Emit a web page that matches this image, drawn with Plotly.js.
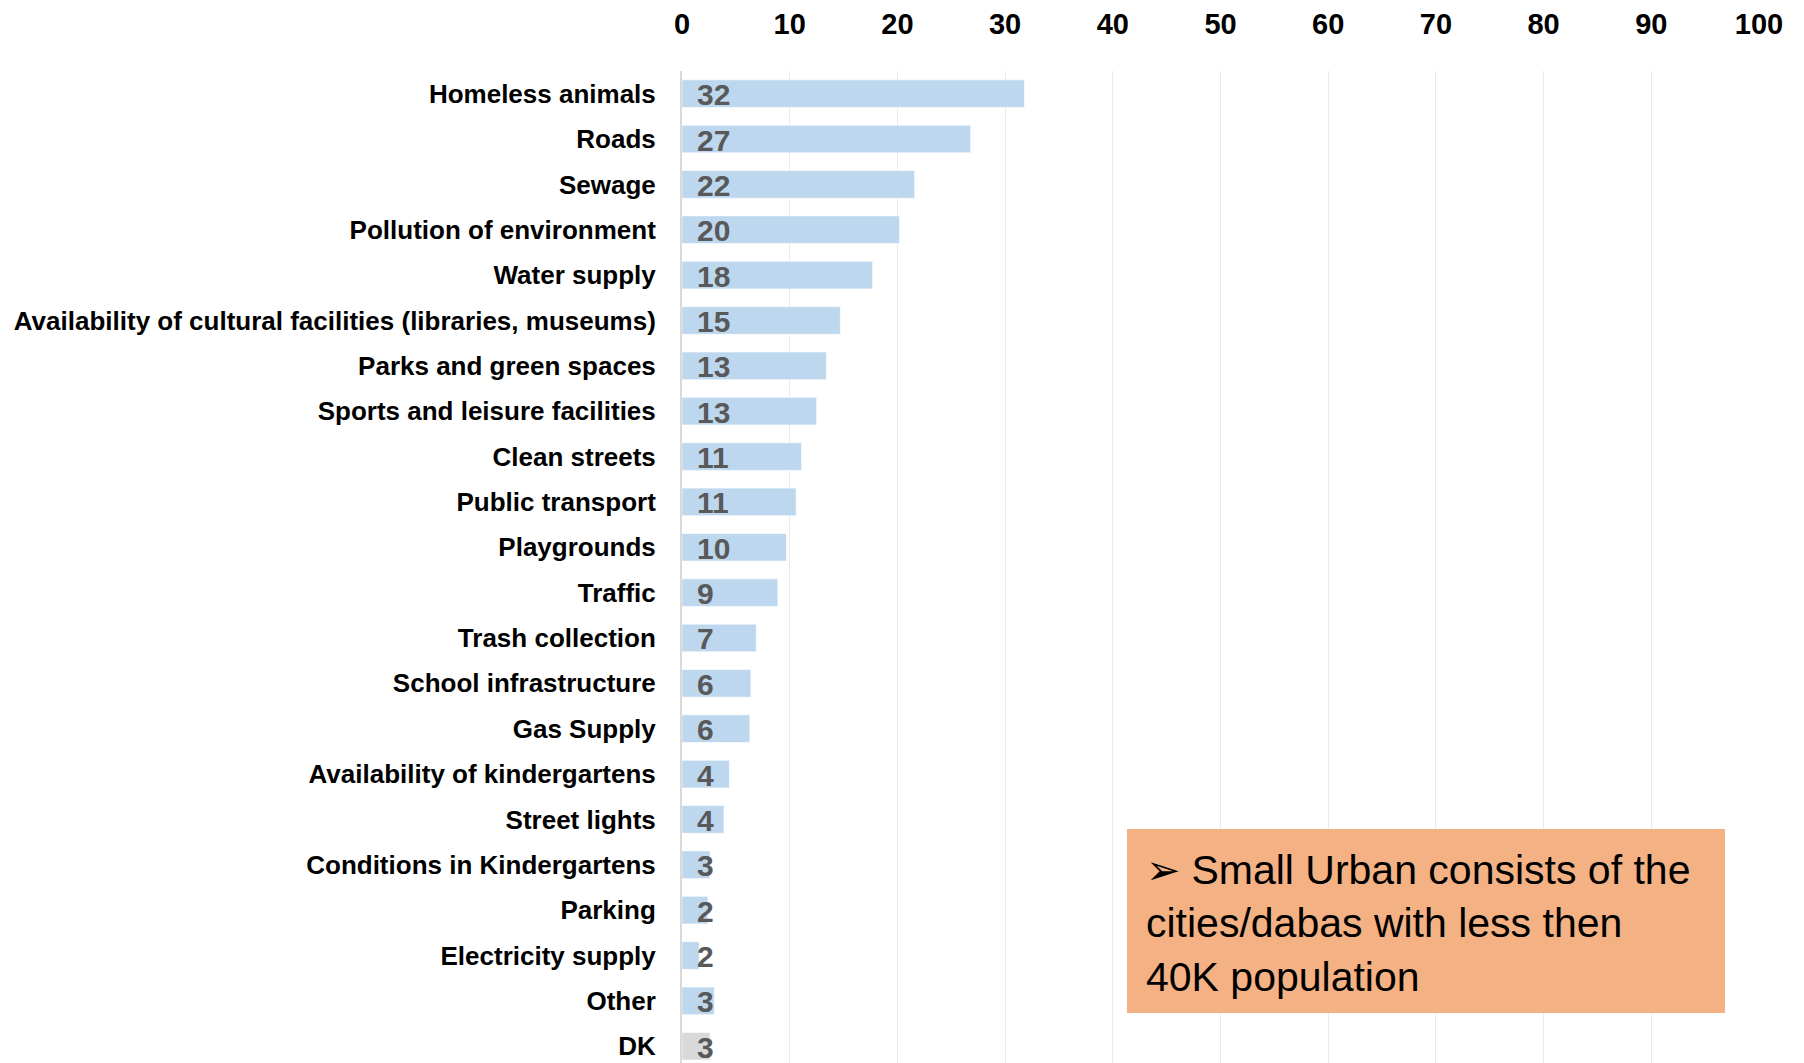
<!DOCTYPE html>
<html>
<head>
<meta charset="utf-8">
<script src="https://cdn.plot.ly/plotly-3.0.1.min.js"></script>
<style>
html,body{margin:0;padding:0;background:#fff;}
#chart{width:1804px;height:1063px;}
</style>
</head>
<body>
<div id="chart"></div>
<script>
const categories = [
  "Homeless animals",
  "Roads",
  "Sewage",
  "Pollution of environment",
  "Water supply",
  "Availability of cultural facilities (libraries, museums)",
  "Parks and green spaces",
  "Sports and leisure facilities",
  "Clean streets",
  "Public transport",
  "Playgrounds",
  "Traffic",
  "Trash collection",
  "School infrastructure",
  "Gas Supply",
  "Availability of kindergartens",
  "Street lights",
  "Conditions in Kindergartens",
  "Parking",
  "Electricity supply",
  "Other",
  "DK"
];
const values = [31.8, 26.8, 21.6, 20.2, 17.7, 14.7, 13.4, 12.5, 11.1, 10.6, 9.7, 8.9, 6.9, 6.4, 6.3, 4.4, 3.9, 2.6, 2.4, 1.6, 3.0, 2.6];
const labels = ["32","27","22","20","18","15","13","13","11","11","10","9","7","6","6","4","4","3","2","2","3","3"];
const xTicks = [0, 10, 20, 30, 40, 50, 60, 70, 80, 90, 100];
const noteText = "➢ Small Urban consists of the<br>cities/dabas with less then<br>40K population";

const FONT = "'Liberation Sans', Arial, sans-serif";
const barColors = categories.map(c => c === "DK" ? "#D9D9D9" : "#BDD7EE");

const trace = {
  type: "bar",
  orientation: "h",
  y: categories,
  x: values,
  width: 0.61,
  marker: {color: barColors, line: {color: "rgba(255,255,255,0.6)", width: 1}},
  hoverinfo: "x+y"
};

const valueAnnotations = categories.map((c, i) => ({
  x: 0, y: c, xref: "x", yref: "y",
  text: labels[i],
  showarrow: false,
  xanchor: "left", yanchor: "middle",
  xshift: 14, yshift: -1,
  borderpad: 0,
  font: {family: FONT, size: 30, color: "#595959", weight: "bold"}
}));

const layout = {
  width: 1804, height: 1063,
  margin: {l: 682, r: 45, t: 71, b: 0, pad: 0},
  paper_bgcolor: "#ffffff",
  plot_bgcolor: "#ffffff",
  showlegend: false,
  bargap: 0.39,
  xaxis: {
    side: "top",
    range: [0, 100],
    tickvals: xTicks,
    ticktext: xTicks.map(String),
    showgrid: true,
    gridcolor: "#EAEAEA",
    gridwidth: 1,
    zeroline: false,
    showline: false,
    ticks: "",
    ticklabelstandoff: 30,
    tickfont: {family: FONT, size: 29, color: "#000000", weight: "bold"},
    fixedrange: true
  },
  yaxis: {
    type: "category",
    categoryorder: "array",
    categoryarray: categories,
    range: [21.37, -0.5],
    showgrid: false,
    zeroline: false,
    showline: true,
    linecolor: "#D9D9D9",
    linewidth: 2,
    ticks: "",
    ticklabelstandoff: 19,
    tickfont: {family: FONT, size: 26, color: "#000000", weight: "bold"},
    fixedrange: true
  },
  shapes: [{
    type: "rect", xref: "paper", yref: "paper",
    x0: 0.4132, x1: 0.9684, y0: 0.0504, y1: 0.2359,
    fillcolor: "#F4B183", line: {width: 0}, layer: "above"
  }],
  annotations: valueAnnotations.concat([{
    xref: "paper", yref: "paper",
    x: 0.4290, y: 0.1411,
    xanchor: "left", yanchor: "middle",
    align: "left",
    showarrow: false,
    text: noteText,
    font: {family: FONT, size: 41, color: "#000000"}
  }])
};

Plotly.newPlot("chart", [trace], layout, {displayModeBar: false, staticPlot: true});
</script>
</body>
</html>
